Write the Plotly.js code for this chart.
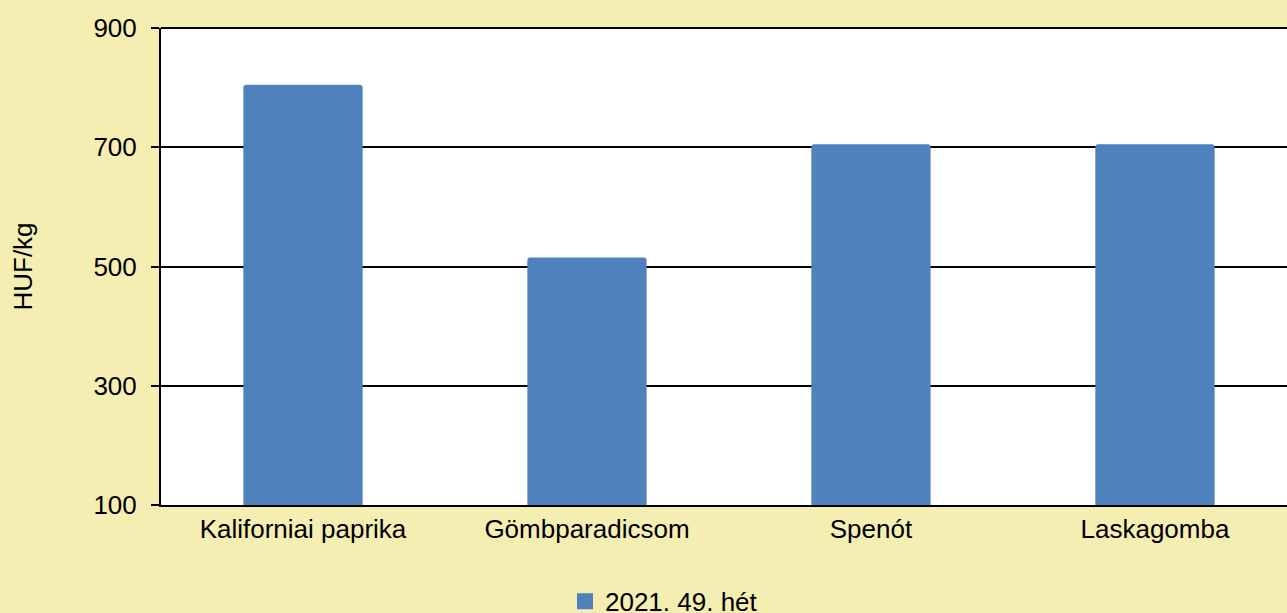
<!DOCTYPE html>
<html>
<head>
<meta charset="utf-8">
<script src="https://cdn.plot.ly/plotly-3.0.1.min.js"></script>
<style>
html,body{margin:0;padding:0;background:#F4EEB3;}
#chart{width:1287px;height:613px;}
</style>
</head>
<body>
<div id="chart"></div>
<script>
const categories = ["Kaliforniai paprika", "Gömbparadicsom", "Spenót", "Laskagomba"];
const values = [805, 515, 705, 705];
const seriesName = "2021. 49. hét";
const yTicks = [100, 300, 500, 700, 900];
const barColor = "#4F81BD";

const barTrace = {
  type: "bar",
  x: categories,
  y: values,
  name: seriesName,
  marker: {color: barColor},
  width: 0.42,
  showlegend: false,
  hoverinfo: "x+y"
};

// legend-only entry with a larger square swatch, like the reference
const legendTrace = {
  type: "scatter",
  mode: "markers",
  x: [null],
  y: [null],
  name: seriesName,
  marker: {symbol: "square", size: 18, color: barColor},
  showlegend: true,
  hoverinfo: "skip"
};

const fam = "Liberation Sans, Arial, sans-serif";
const font = {family: fam, size: 26, color: "#000000"};

const layout = {
  width: 1287,
  height: 613,
  paper_bgcolor: "#F4EEB3",
  plot_bgcolor: "#FFFFFF",
  font: font,
  margin: {l: 161, r: 0, t: 28, b: 108, pad: 0, autoexpand: false},
  barcornerradius: 3,
  xaxis: {
    type: "category",
    range: [-0.5, 3.465],
    showline: true,
    linecolor: "#000000",
    linewidth: 2,
    ticks: "",
    showgrid: false,
    tickfont: font,
    automargin: false,
    fixedrange: true
  },
  yaxis: {
    range: [100, 900],
    tickvals: yTicks,
    ticktext: yTicks.map(String),
    showline: true,
    linecolor: "#000000",
    linewidth: 2,
    ticks: "outside",
    ticklen: 8,
    tickwidth: 2,
    tickcolor: "#000000",
    ticklabelstandoff: 9,
    showgrid: true,
    gridcolor: "#000000",
    gridwidth: 2,
    zeroline: false,
    tickfont: font,
    title: {text: "HUF/kg", font: font, standoff: 53},
    automargin: false,
    fixedrange: true
  },
  shapes: [{
    type: "line", xref: "paper", yref: "paper",
    x0: 0, x1: 1, y0: 1, y1: 1,
    line: {color: "#000000", width: 2}
  }],
  showlegend: true,
  legend: {
    orientation: "h",
    xref: "container",
    yref: "container",
    x: 0.439,
    xanchor: "left",
    y: 0.019,
    yanchor: "middle",
    bgcolor: "rgba(0,0,0,0)",
    font: font,
    itemwidth: 30,
    tracegroupgap: 0
  }
};

Plotly.newPlot("chart", [barTrace, legendTrace], layout, {displayModeBar: false, staticPlot: true});
</script>
</body>
</html>
